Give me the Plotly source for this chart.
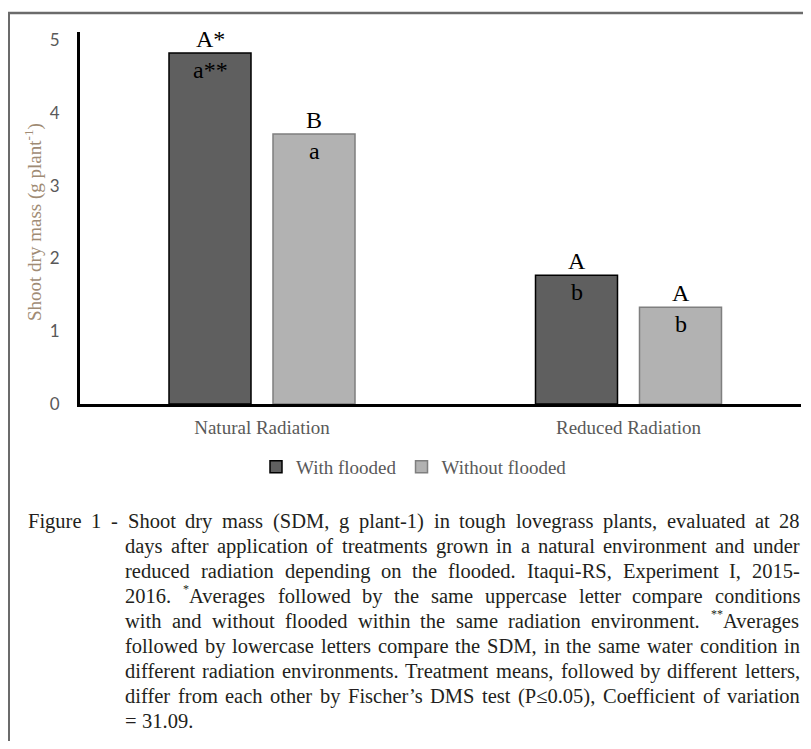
import plotly.graph_objects as go

# ---------------- data ----------------
categories = ["Natural Radiation", "Reduced Radiation"]
with_flooded = [4.82, 1.77]
without_flooded = [3.71, 1.33]
upper_with = ["A*", "A"]
lower_with = ["a**", "b"]
upper_without = ["B", "A"]
lower_without = ["a", "b"]
y_ticks = [0, 1, 2, 3, 4, 5]
series_names = ["With flooded", "Without flooded"]

caption_lines = [
    "Figure 1 - Shoot dry mass (SDM, g plant-1) in tough lovegrass plants, evaluated at 28",
    "days after application of treatments grown in a natural environment and under",
    "reduced radiation depending on the flooded. Itaqui-RS, Experiment I, 2015-",
    "2016. *Averages followed by the same uppercase letter compare conditions",
    "with and without flooded within the same radiation environment. **Averages",
    "followed by lowercase letters compare the SDM, in the same water condition in",
    "different radiation environments. Treatment means, followed by different letters,",
    "differ from each other by Fischer\u2019s DMS test (P\u22640.05), Coefficient of variation",
    "= 31.09.",
]

# ---------------- layout geometry ----------------
# The page body adds an 8px margin, so the figure is 16px smaller than the window
# and reference pixel coordinates are converted with that offset in mind.
OFF = 8
W, H = 811 - OFF, 749 - 2 * OFF
PLOT_L, PLOT_R, PLOT_T, PLOT_B = 80, 801, 32, 404   # reference pixels
ML = PLOT_L - OFF
MT = PLOT_T - OFF
PW = PLOT_R - PLOT_L
PH = PLOT_B - PLOT_T
MR = W - ML - PW
MB = H - MT - PH


def px(xr):
    return (xr - PLOT_L) / PW


def py(yr):
    return (PLOT_B - yr) / PH


SERIF = "Liberation Serif"
GRAY_TXT = "#595959"

# Times New Roman advance widths (per 1000 em)
TW = {" ": 250, "(": 333, ")": 333, "*": 500, ",": 250, "-": 333, ".": 250,
      "=": 564, "\u2019": 333, "\u2264": 549, ":": 278}
for c in "0123456789":
    TW[c] = 500
TW.update(dict(zip("ABCDEFGHIJKLMNOPQRSTUVWXYZ",
                   [722, 667, 667, 722, 611, 556, 722, 722, 333, 389, 722, 611, 889,
                    722, 722, 556, 722, 667, 556, 611, 722, 722, 944, 722, 722, 611])))
TW.update(dict(zip("abcdefghijklmnopqrstuvwxyz",
                   [444, 500, 444, 500, 444, 333, 500, 500, 278, 278, 500, 278, 778,
                    500, 500, 500, 500, 333, 389, 278, 500, 500, 722, 500, 500, 444])))


def tw(s, size):
    return sum(TW.get(c, 500) for c in s) / 1000.0 * size


fig = go.Figure()
fig.add_trace(go.Bar(
    name=series_names[0], x=categories, y=with_flooded,
    marker=dict(color="#5f5f5f", line=dict(color="#000000", width=1.5)),
))
fig.add_trace(go.Bar(
    name=series_names[1], x=categories, y=without_flooded,
    marker=dict(color="#b2b2b2", line=dict(color="#7f7f7f", width=1.5)),
))

annotations = []
shift = 52
for i, cat in enumerate(categories):
    for xs, val, up, lo in [(-shift, with_flooded[i], upper_with[i], lower_with[i]),
                            (shift, without_flooded[i], upper_without[i], lower_without[i])]:
        annotations.append(dict(x=cat, y=val, xref="x", yref="y", xshift=xs, yshift=14,
                                text=up, showarrow=False, yanchor="middle",
                                font=dict(family=SERIF, size=24, color="#000000")))
        annotations.append(dict(x=cat, y=val, xref="x", yref="y", xshift=xs, yshift=-17,
                                text=lo, showarrow=False, yanchor="middle",
                                font=dict(family=SERIF, size=24, color="#000000")))

# y axis title
annotations.append(dict(x=px(33), y=py(222), xref="paper", yref="paper",
                        text="Shoot dry mass (g plant<sup>-1</sup>)", textangle=-90,
                        showarrow=False, xanchor="center", yanchor="middle",
                        font=dict(family=SERIF, size=19, color="#a08b74")))

# caption (justified, word by word)
CS = 20.5
SUPS = 12
left_first, left_ind, right_edge = 27, 124, 799
y0, dy = 521, 25
n_lines = len(caption_lines)
for li, line in enumerate(caption_lines):
    yc = y0 + dy * li
    words = line.split(" ")
    toks = []
    for w in words:
        stars = ""
        while w.startswith("*"):
            stars += "*"
            w = w[1:]
        toks.append((stars, w))
    widths = [tw(s, SUPS) + tw(w, CS) for s, w in toks]
    left = left_first if li == 0 else left_ind
    if li < n_lines - 1 and len(toks) > 1:
        gap = (right_edge - left - sum(widths)) / (len(toks) - 1)
    else:
        gap = tw(" ", CS)
    x = left
    for (s, w), wd in zip(toks, widths):
        xx = x
        if s:
            annotations.append(dict(x=px(xx), y=py(yc), xref="paper", yref="paper",
                                    text=s, showarrow=False, xanchor="left", yanchor="middle",
                                    yshift=7, borderpad=0,
                                    font=dict(family=SERIF, size=SUPS, color="#231f20")))
            xx += tw(s, SUPS)
        annotations.append(dict(x=px(xx), y=py(yc), xref="paper", yref="paper",
                                text=w, showarrow=False, xanchor="left", yanchor="middle",
                                borderpad=0,
                                font=dict(family=SERIF, size=CS, color="#231f20")))
        x += wd + gap

shapes = [
    dict(type="line", xref="paper", yref="paper", x0=px(8), x1=px(815), y0=py(13), y1=py(13),
         line=dict(color="#6b6b6b", width=2.5)),
    dict(type="line", xref="paper", yref="paper", x0=px(9), x1=px(9), y0=py(13), y1=py(760),
         line=dict(color="#6b6b6b", width=2)),
]

fig.update_layout(
    width=W, height=H,
    margin=dict(l=ML, r=MR, t=MT, b=MB, pad=0),
    paper_bgcolor="white", plot_bgcolor="white",
    barmode="group", bargap=0.4325, bargroupgap=0.2115,
    showlegend=True,
    legend=dict(orientation="h", x=px(414), xanchor="center", y=py(467), yanchor="middle",
                font=dict(family=SERIF, size=19, color=GRAY_TXT),
                itemwidth=30, traceorder="normal", bgcolor="rgba(0,0,0,0)"),
    xaxis=dict(type="category", range=[-(262 - PLOT_L) / 366.5, 1 + (PLOT_R - 628.5) / 366.5],
               showline=True, linecolor="#000000", linewidth=3, showgrid=False,
               ticks="", ticklabelstandoff=4,
               tickfont=dict(family=SERIF, size=19, color=GRAY_TXT), zeroline=False),
    yaxis=dict(range=[0, PH / 72.8], tickvals=y_ticks, showline=True,
               linecolor="#000000", linewidth=3, showgrid=False, zeroline=False,
               ticks="", ticklabelstandoff=14,
               tickfont=dict(family="Lato", size=17, color=GRAY_TXT)),
    annotations=annotations,
    shapes=shapes,
)

fig.write_html("out.html")
